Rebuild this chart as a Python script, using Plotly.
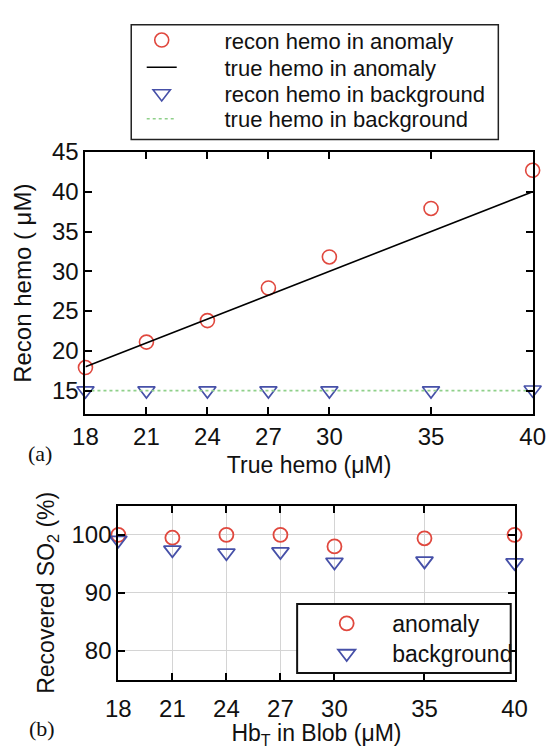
import plotly.graph_objects as go

W, H = 559, 749

# ---------------- data ----------------
hemo_true = [18, 21, 24, 27, 30, 35, 40]
recon_anomaly = [17.9, 21.1, 23.8, 27.9, 31.8, 37.9, 42.7]
true_anomaly = [18, 21, 24, 27, 30, 35, 40]
recon_background = [15.0, 15.0, 15.0, 15.0, 15.0, 15.0, 15.1]
true_background = [15, 15, 15, 15, 15, 15, 15]

hbt_blob = [18, 21, 24, 27, 30, 35, 40]
so2_anomaly = [100.0, 99.5, 100.0, 100.0, 98.0, 99.4, 100.0]
so2_background = [99.1, 97.4, 96.9, 97.1, 95.3, 95.5, 95.2]

x_ticks = [18, 21, 24, 27, 30, 35, 40]
y_ticks_a = [15, 20, 25, 30, 35, 40, 45]
y_ticks_b = [80, 90, 100]

# ---------------- styles ----------------
RED = "#e0483e"
BLUE = "#4650a8"
GREEN = "#8fd08a"
FONT = "Liberation Sans, Arial, sans-serif"
SERIF = "Liberation Serif, Times New Roman, serif"
NB = "\u00a0"


def px_x(p):
    return p / W


def px_y(p):
    return 1 - p / H


fig = go.Figure()

# panel (a)
fig.add_trace(go.Scatter(
    x=hemo_true, y=recon_anomaly, mode="markers", name=NB * 7 + "recon hemo in anomaly",
    marker=dict(symbol="circle-open", size=14, color=RED, line=dict(width=1.6, color=RED)),
    xaxis="x", yaxis="y", cliponaxis=False, legend="legend"))
fig.add_trace(go.Scatter(
    x=hemo_true, y=true_anomaly, mode="lines", name=NB * 7 + "true hemo in anomaly",
    line=dict(color="black", width=1.6), xaxis="x", yaxis="y", legend="legend2"))
fig.add_trace(go.Scatter(
    x=hemo_true, y=recon_background, mode="markers", name=NB * 7 + "recon hemo in background",
    marker=dict(symbol="triangle-down-open", size=15, color=BLUE, line=dict(width=1.6, color=BLUE)),
    xaxis="x", yaxis="y", cliponaxis=False, legend="legend3"))
fig.add_trace(go.Scatter(
    x=hemo_true, y=true_background, mode="lines", name=NB * 7 + "true hemo in background",
    line=dict(color=GREEN, width=1.6, dash="dot"), xaxis="x", yaxis="y", legend="legend4"))

# panel (b)
fig.add_trace(go.Scatter(
    x=hbt_blob, y=so2_anomaly, mode="markers", name=NB * 4 + "anomaly",
    marker=dict(symbol="circle-open", size=14, color=RED, line=dict(width=1.8, color=RED)),
    xaxis="x2", yaxis="y2", cliponaxis=False, legend="legend5"))
fig.add_trace(go.Scatter(
    x=hbt_blob, y=so2_background, mode="markers", name=NB * 4 + "background",
    marker=dict(symbol="triangle-down-open", size=15, color=BLUE, line=dict(width=1.8, color=BLUE)),
    xaxis="x2", yaxis="y2", cliponaxis=False, legend="legend6"))

axis_common = dict(
    showline=True, linecolor="black", linewidth=2, mirror="ticks",
    ticks="inside", ticklen=7, tickwidth=1.5, tickcolor="black",
    tickfont=dict(family=FONT, size=24, color="#111"), zeroline=False,
)


def leg(xp, yp, size):
    return dict(x=px_x(xp), y=px_y(yp), xanchor="left", yanchor="middle",
                bgcolor="rgba(0,0,0,0)", borderwidth=0,
                font=dict(family=FONT, size=size, color="#111"), itemwidth=30)


fig.update_layout(
    width=W, height=H,
    margin=dict(l=0, r=0, t=0, b=0),
    paper_bgcolor="white", plot_bgcolor="white",
    font=dict(family=FONT, color="#111"),
    xaxis=dict(
        domain=[px_x(76), px_x(545)], anchor="y", range=[18, 40],
        tickvals=x_ticks, showgrid=False,
        title=dict(text="True hemo (\u03bcM)", font=dict(size=23), standoff=8),
        **axis_common),
    yaxis=dict(
        domain=[px_y(412), px_y(142)], anchor="x", range=[12, 45],
        tickvals=y_ticks_a, showgrid=False,
        title=dict(text="Recon hemo ( \u03bcM)", font=dict(size=24), standoff=14),
        **axis_common),
    xaxis2=dict(
        domain=[px_x(110.5), px_x(526)], anchor="y2", range=[18, 40],
        tickvals=x_ticks, showgrid=True, gridcolor="#d4d4d4", gridwidth=1,
        ticklabelstandoff=6,
        title=dict(text="Hb<sub>T</sub> in Blob (\u03bcM)", font=dict(size=23), standoff=11),
        **axis_common),
    yaxis2=dict(
        domain=[px_y(685), px_y(506)], anchor="x2", range=[75, 105],
        tickvals=y_ticks_b, showgrid=True, gridcolor="#d4d4d4", gridwidth=1,
        title=dict(text="Recovered SO<sub>2</sub> (%)", font=dict(size=23), standoff=10),
        **axis_common),
    legend=leg(135, 27, 22),
    legend2=leg(135, 55, 22),
    legend3=leg(135, 82, 22),
    legend4=leg(135, 108, 22),
    legend5=leg(329, 627, 23),
    legend6=leg(329, 658, 23),
    showlegend=True,
    shapes=[
        dict(type="rect", xref="paper", yref="paper",
             x0=px_x(124), x1=px_x(509), y0=px_y(129), y1=px_y(11),
             line=dict(color="#222", width=1.5), fillcolor="white", layer="below"),
        dict(type="rect", xref="paper", yref="paper",
             x0=px_x(298), x1=px_x(522), y0=px_y(678), y1=px_y(607),
             line=dict(color="#111", width=2), fillcolor="white", layer="above"),
    ],
    annotations=[
        dict(text="(a)", x=px_x(28), y=px_y(452), xref="paper", yref="paper",
             xanchor="center", yanchor="middle",
             showarrow=False, font=dict(family=SERIF, size=22, color="#111")),
        dict(text="(b)", x=px_x(30), y=px_y(735), xref="paper", yref="paper",
             xanchor="center", yanchor="middle",
             showarrow=False, font=dict(family=SERIF, size=22, color="#111")),
    ],
)

fig.write_html("out.html")
